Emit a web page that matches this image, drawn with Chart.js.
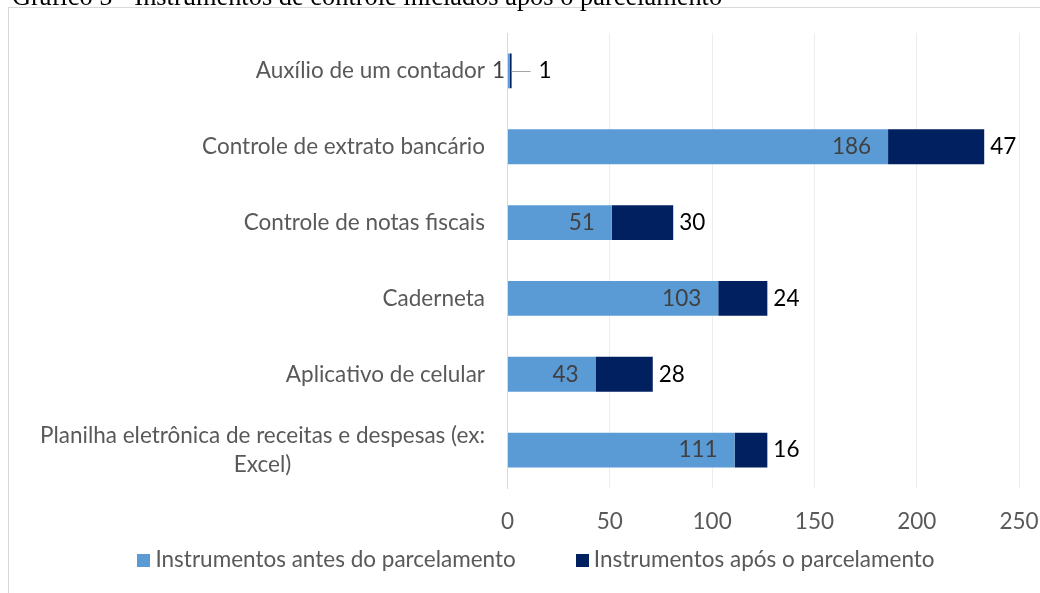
<!DOCTYPE html>
<html lang="pt-BR">
<head>
<meta charset="utf-8">
<title>Gráfico 5 - Instrumentos de controle iniciados após o parcelamento</title>
<script src="https://cdn.jsdelivr.net/npm/chart.js"></script>
<style>
  html, body { margin: 0; padding: 0; background: #ffffff; width: 1040px; height: 593px; overflow: hidden; }
  #frame { position: absolute; left: 8px; top: 7px; width: 1056px; height: 600px; border: 1px solid #d9d9d9; box-sizing: border-box; }
  #wrap { position: absolute; left: 0; top: 0; width: 1054px; height: 598px; }
  #title { position: absolute; left: 12px; top: -17.5px; font-family: "Liberation Serif", "Times New Roman", serif; font-size: 26.4px; line-height: 26.4px; color: #000; white-space: nowrap; z-index: 2; }
</style>
</head>
<body>
<div id="frame"><div id="wrap"><canvas id="c" width="1054" height="598"></canvas></div></div>
<div id="title">Gráfico 5 - Instrumentos de controle iniciados após o parcelamento</div>
<script>
const categories = [
  'Auxílio de um contador',
  'Controle de extrato bancário',
  'Controle de notas fiscais',
  'Caderneta',
  'Aplicativo de celular',
  ['Planilha eletrônica de receitas e despesas (ex:', 'Excel)']
];
const seriesNames = ['Instrumentos antes do parcelamento', 'Instrumentos após o parcelamento'];
const antes = [1, 186, 51, 103, 43, 111];
const apos = [1, 47, 30, 24, 28, 16];
const xTicks = [0, 50, 100, 150, 200, 250];

const FONT = 'Lato';
const FS = 22.5;

const yLabelPlugin = {
  id: 'yLabels',
  afterDraw(chart) {
    const ctx = chart.ctx;
    const ys = chart.scales.y;
    const right = chart.chartArea.left - 22.5;
    const lh = 28.6;
    ctx.save();
    ctx.font = FS + 'px ' + FONT;
    ctx.fillStyle = '#595959';
    ctx.textBaseline = 'middle';
    ctx.textAlign = 'center';
    chart.data.labels.forEach((lab, i) => {
      const lines = Array.isArray(lab) ? lab : [lab];
      const yc = ys.getPixelForValue(i);
      const bw = Math.max(...lines.map(l => ctx.measureText(l).width));
      const cx = right - bw / 2;
      lines.forEach((l, k) => {
        ctx.fillText(l, cx, yc + (k - (lines.length - 1) / 2) * lh);
      });
    });
    ctx.restore();
  }
};

const legendPlugin = {
  id: 'customLegend',
  afterDraw(chart) {
    const ctx = chart.ctx;
    const box = 13, gapBox = 5, gapItem = 60;
    const yc = chart.height - 46;
    ctx.save();
    ctx.font = FS + 'px ' + FONT;
    ctx.textBaseline = 'middle';
    ctx.textAlign = 'left';
    const items = chart.data.datasets.map(ds => ({ text: ds.label, color: ds.backgroundColor, w: ctx.measureText(ds.label).width }));
    const total = items.reduce((s, it) => s + box + gapBox + it.w, 0) + gapItem * (items.length - 1);
    let x = chart.width / 2 - total / 2;
    items.forEach(it => {
      ctx.fillStyle = it.color;
      ctx.fillRect(Math.round(x), Math.round(yc - box / 2), box, box);
      ctx.fillStyle = '#595959';
      ctx.fillText(it.text, x + box + gapBox, yc);
      x += box + gapBox + it.w + gapItem;
    });
    ctx.restore();
  }
};

const valueLabelPlugin = {
  id: 'valueLabels',
  afterDatasetsDraw(chart) {
    const ctx = chart.ctx;
    ctx.save();
    ctx.font = FS + 'px ' + FONT;
    ctx.textBaseline = 'middle';
    chart.data.datasets.forEach((ds, di) => {
      const meta = chart.getDatasetMeta(di);
      meta.data.forEach((el, i) => {
        const txt = String(ds.data[i]);
        const tw = ctx.measureText(txt).width;
        const w = el.x - el.base;
        if (di === 0) {
          ctx.fillStyle = '#404040';
          ctx.textAlign = 'right';
          if (w >= tw + 20) {
            ctx.fillText(txt, el.x - 17, el.y);
          } else {
            ctx.fillText(txt, el.base - 3, el.y);
          }
        } else {
          ctx.fillStyle = '#000000';
          ctx.textAlign = 'left';
          if (w < 5) {
            ctx.strokeStyle = '#a6a6a6';
            ctx.lineWidth = 1;
            ctx.beginPath();
            ctx.moveTo(el.x, Math.round(el.y) + 0.5);
            ctx.lineTo(el.x + 19, Math.round(el.y) + 0.5);
            ctx.stroke();
            ctx.fillText(txt, el.x + 27, el.y);
          } else {
            ctx.fillText(txt, el.x + 6, el.y);
          }
        }
      });
    });
    ctx.restore();
  }
};

new Chart(document.getElementById('c'), {
  type: 'bar',
  data: {
    labels: categories,
    datasets: [
      { label: seriesNames[0], data: antes, backgroundColor: '#5b9bd5', borderWidth: 0, barPercentage: 0.46, categoryPercentage: 1 },
      { label: seriesNames[1], data: apos, backgroundColor: '#002060', borderWidth: 0, barPercentage: 0.46, categoryPercentage: 1 }
    ]
  },
  options: {
    indexAxis: 'y',
    responsive: false,
    animation: false,
    layout: { padding: { left: 44, right: 44, top: 25, bottom: 58 } },
    scales: {
      x: {
        stacked: true,
        min: 0, max: 250,
        afterBuildTicks(scale) { scale.ticks = xTicks.map(v => ({ value: v })); },
        afterFit(scale) { scale.height = 60; },
        grid: { color: '#ededed', lineWidth: 1, drawTicks: false },
        border: { display: false },
        ticks: { color: '#595959', font: { family: FONT, size: FS }, padding: 20, maxRotation: 0 }
      },
      y: {
        stacked: true,
        afterFit(scale) { scale.width = 454.5; },
        grid: { display: false, drawTicks: false },
        border: { display: true, color: '#d9d9d9', width: 1 },
        ticks: { display: false }
      }
    },
    plugins: {
      legend: { display: false },
      tooltip: { enabled: false },
      title: { display: false }
    }
  },
  plugins: [yLabelPlugin, valueLabelPlugin, legendPlugin]
});
</script>
</body>
</html>
